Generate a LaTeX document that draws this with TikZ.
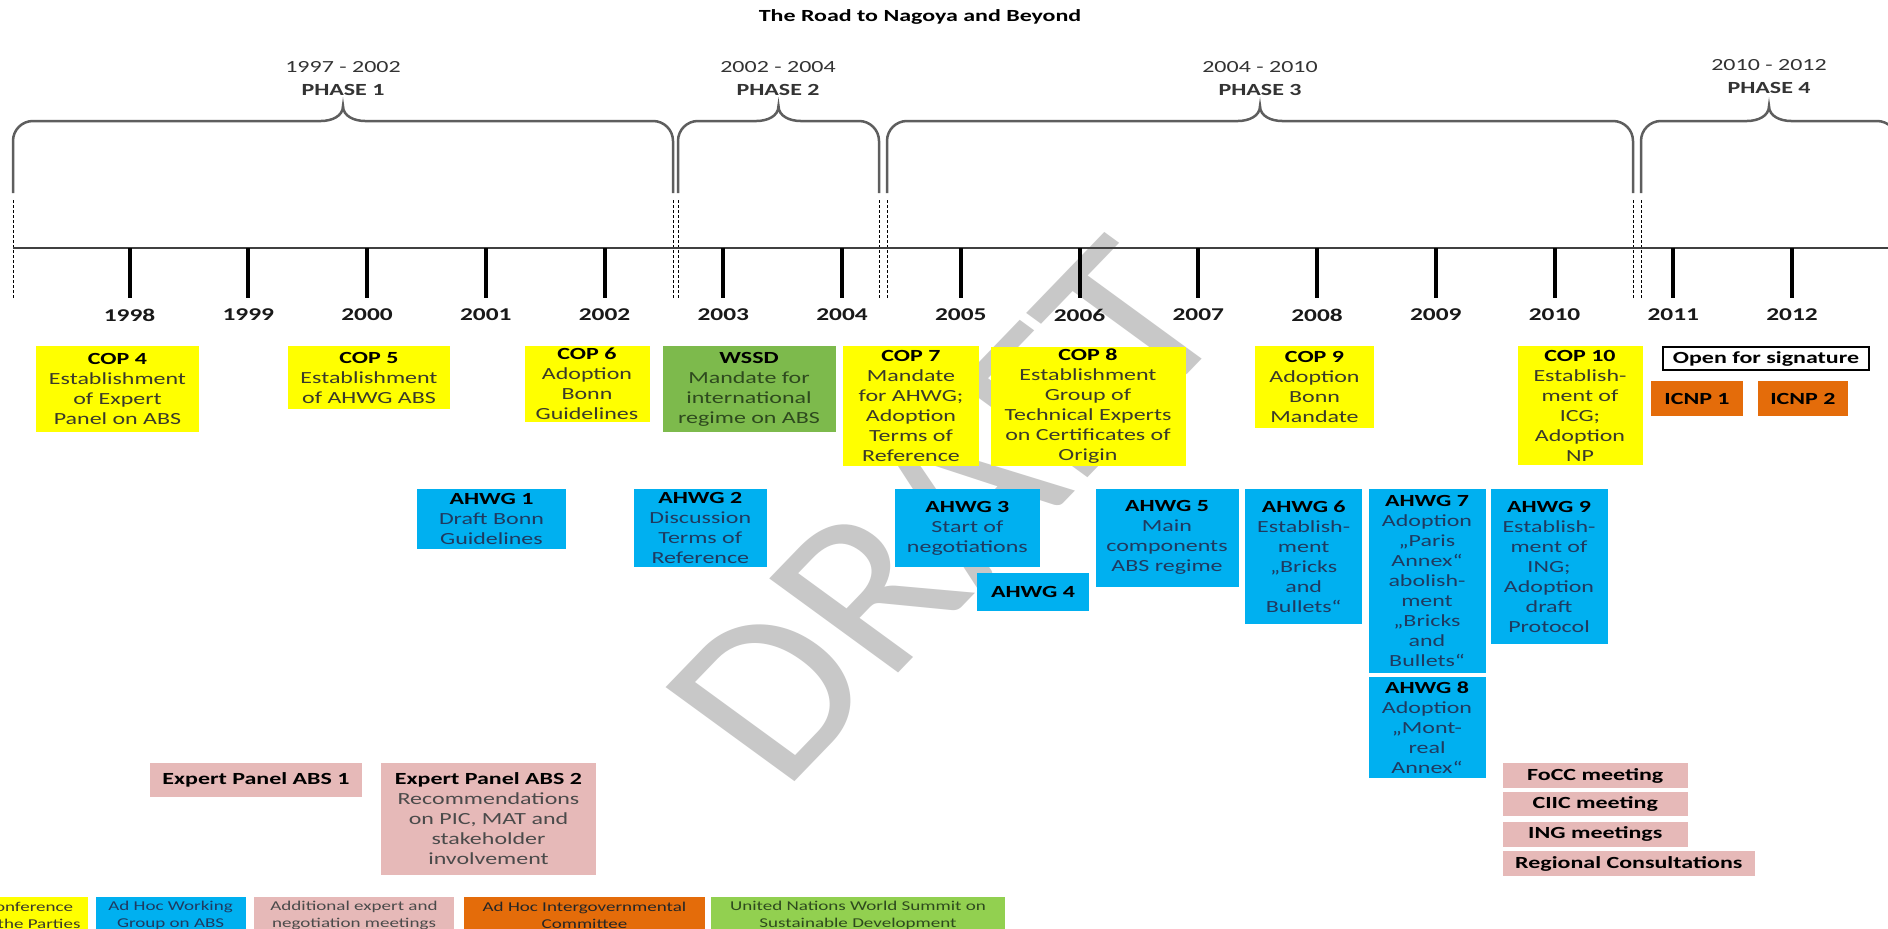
\documentclass[tikz,border=0pt]{standalone}
\usepackage{fontspec}
\setmainfont{Carlito}[FakeStretch=1.41]
\newfontfamily\draftfont{Carlito}
\usepackage{xcolor}
\usepackage{tikz}
\usetikzlibrary{positioning}

\definecolor{copyellow}{HTML}{FFFF00}
\definecolor{ahwgblue}{HTML}{00B0F0}
\definecolor{meetpink}{HTML}{E6B9B8}
\definecolor{icorange}{HTML}{E46C0A}
\definecolor{wssdgreen}{HTML}{7DBA4C}
\definecolor{legendgreen}{HTML}{92D050}
\definecolor{bracegray}{HTML}{5E5E5E}
\definecolor{draftgray}{HTML}{C8C8C8}
\definecolor{coptext}{HTML}{3A3A2A}
\definecolor{bluetext}{HTML}{1F3A60}
\definecolor{greytext}{HTML}{4A4A4A}
\definecolor{greentext}{HTML}{2E4A1E}

\newcommand{\evhead}[1]{\textcolor{black}{\textbf{#1}}}

\begin{document}
\begin{tikzpicture}[x=1pt,y=-1pt,
  evt/.style={inner sep=0pt,align=center,font=\fontsize{17}{20}\selectfont},
  cop/.style={evt,fill=copyellow,text=coptext},
  wssdbox/.style={evt,fill=wssdgreen,text=greentext},
  ahwg/.style={evt,fill=ahwgblue,text=bluetext},
  meet/.style={evt,fill=meetpink,text=greytext},
  icnp/.style={evt,fill=icorange,text=black,font=\fontsize{17}{20}\selectfont\bfseries},
  legendbox/.style={inner sep=0pt,align=center,minimum height=36,font=\fontsize{13.5}{17}\selectfont},
  yearlbl/.style={font=\fontsize{18}{20}\selectfont\bfseries,text=black!90},
  phaselbl/.style={align=center,font=\fontsize{17}{23}\selectfont,text=black!80},
  bracket/.style={draw=bracegray,line width=2.5pt},
  phasesep/.style={draw=black,line width=0.8pt,dash pattern=on 3pt off 2pt}]
  \useasboundingbox (0,0) rectangle (1888,929);
  \clip (0,0) rectangle (1888,929);
  \fill[white] (0,0) rectangle (1888,929);

  % watermark
  \begin{scope}[shift={(945,512)},xscale=1.15]
    \node[rotate=50,transform shape,text=draftgray,font=\draftfont\fontsize{228}{228}\selectfont] (draft) at (0,0) {DRAFT};
  \end{scope}

  \node[font=\fontsize{17}{20}\selectfont\bfseries] (title) at (920,17) {The Road to Nagoya and Beyond};

  % phases
  \foreach \l/\r in {13/673,678/879,887/1633,1641/1897} {
    \pgfmathsetmacro{\m}{(\l+\r)/2}
    \draw[bracket] (\l,193) -- (\l,141) to[out=90,in=180] ({\l+20},121) -- ({\m-22},121)
      to[out=0,in=-90] (\m,106) to[out=-90,in=180] ({\m+22},121) -- ({\r-20},121)
      to[out=0,in=90] (\r,141) -- (\r,193);
  }
  \foreach \x in {13,673,678,879,887,1633,1641}
    \draw[phasesep] (\x,200) -- (\x,298);
  \node[phaselbl] (ph1) at (343,78.5) {1997 - 2002\\\textbf{PHASE 1}};
  \node[phaselbl] (ph2) at (778,78.5) {2002 - 2004\\\textbf{PHASE 2}};
  \node[phaselbl] (ph3) at (1260,78.5) {2004 - 2010\\\textbf{PHASE 3}};
  \node[phaselbl] (ph4) at (1769,77) {2010 - 2012\\\textbf{PHASE 4}};

  % time axis
  \draw[line width=2.5pt,black!75] (13,248) -- (1888,248);
  \foreach \yr [count=\i from 0] in {1998,...,2012} {
    \draw[line width=4pt] ({129.5+118.75*\i},248) -- ++(0,50);
    \node[yearlbl] (y\yr) at ({129.5+118.75*\i},315) {\yr};
  }

  % COP row
  \node[cop,minimum width=163,minimum height=86] (cop4) at (117.5,389) {\evhead{COP 4}\\Establishment\\of Expert\\Panel on ABS};
  \node[cop,minimum width=162,minimum height=63] (cop5) at (369,377.5) {\evhead{COP 5}\\Establishment\\of AHWG ABS};
  \node[cop,minimum width=125,minimum height=76] (cop6) at (587,384) {\evhead{COP 6}\\Adoption\\Bonn\\Guidelines};
  \node[wssdbox,minimum width=173,minimum height=86] (wssd) at (749,389) {\evhead{WSSD}\\Mandate for\\international\\regime on ABS};
  \node[cop,minimum width=136,minimum height=120] (cop7) at (911,406) {\evhead{COP 7}\\Mandate\\for AHWG;\\Adoption\\Terms of\\Reference};
  \node[cop,minimum width=195,minimum height=119] (cop8) at (1088,406) {\evhead{COP 8}\\Establishment\\Group of\\Technical Experts\\on Certificates of\\Origin};
  \node[cop,minimum width=119,minimum height=82] (cop9) at (1314.5,387) {\evhead{COP 9}\\Adoption\\Bonn\\Mandate};
  \node[cop,minimum width=125,minimum height=119] (cop10) at (1580,405.5) {\evhead{COP 10}\\Establish-\\ment of\\ICG;\\Adoption\\NP};
  \node[evt,draw=black,line width=1.2pt,fill=white,font=\fontsize{17}{20}\selectfont\bfseries,minimum width=206,minimum height=23] (opensig) at (1766,358.5) {Open for signature};
  \node[icnp,minimum width=92,minimum height=35] (icnp1) at (1697,398.5) {ICNP 1};
  \node[icnp,minimum width=90,minimum height=35,right=14.5pt of icnp1] (icnp2) {ICNP 2};

  % AHWG row
  \node[ahwg,minimum width=149,minimum height=60] (ahwg1) at (491.5,519) {\evhead{AHWG 1}\\Draft Bonn\\Guidelines};
  \node[ahwg,minimum width=133,minimum height=78.5] (ahwg2) at (700.3,528.2) {\evhead{AHWG 2}\\Discussion\\Terms of\\Reference};
  \node[ahwg,minimum width=145,minimum height=78.5] (ahwg3) at (967.4,528.2) {\evhead{AHWG 3}\\Start of\\negotiations};
  \node[ahwg,minimum width=112,minimum height=38.5] (ahwg4) at (1033,592.2) {\evhead{AHWG 4}};
  \node[ahwg,minimum width=143,minimum height=97.5] (ahwg5) at (1167,537.8) {\evhead{AHWG 5}\\Main\\components\\ABS regime};
  \node[ahwg,minimum width=117,minimum height=135] (ahwg6) at (1303.7,556.5) {\evhead{AHWG 6}\\Establish-\\ment\\„Bricks\\and\\Bullets“};
  \node[ahwg,minimum width=117,minimum height=184] (ahwg7) at (1427,581) {\evhead{AHWG 7}\\Adoption\\„Paris\\Annex“\\abolish-\\ment\\„Bricks\\and\\Bullets“};
  \node[ahwg,minimum width=117,minimum height=101,below=4pt of ahwg7] (ahwg8) {\evhead{AHWG 8}\\Adoption\\„Mont-\\real\\Annex“};
  \node[ahwg,minimum width=117,minimum height=155] (ahwg9) at (1549,566.5) {\evhead{AHWG 9}\\Establish-\\ment of\\ING;\\Adoption\\draft\\Protocol};

  % expert and negotiation meetings
  \node[meet,minimum width=212,minimum height=34] (ep1) at (256,780) {\evhead{Expert Panel ABS 1}};
  \node[meet,minimum width=215,minimum height=112] (ep2) at (488.5,819) {\evhead{Expert Panel ABS 2}\\Recommendations\\on PIC, MAT and\\stakeholder\\involvement};
  \node[meet,minimum width=185.5,minimum height=25] (focc) at (1595.25,775.5) {\evhead{FoCC meeting}};
  \node[meet,minimum width=185.5,minimum height=24,below=4pt of focc] (ciic) {\evhead{CIIC meeting}};
  \node[meet,minimum width=185.5,minimum height=25,below=5pt of ciic] (ing) {\evhead{ING meetings}};
  \node[meet,minimum width=252.5,minimum height=25,below=4pt of ing.south west,anchor=north west] (regional) {\evhead{Regional Consultations}};

  % legend
  \node[legendbox,fill=copyellow,text=coptext,minimum width=118] (lgcop) at (29,915) {Conference\\of the Parties};
  \node[legendbox,fill=ahwgblue,text=bluetext,minimum width=150] (lgahwg) at (170.6,915) {Ad Hoc Working\\Group on ABS};
  \node[legendbox,fill=meetpink,text=greytext,minimum width=200] (lgmeet) at (354,915) {Additional expert and\\negotiation meetings};
  \node[legendbox,fill=icorange,text=black!85,minimum width=241] (lgicnp) at (584.5,915) {Ad Hoc Intergovernmental\\Committee};
  \node[legendbox,fill=legendgreen,text=greentext,minimum width=294] (lgwssd) at (858,915) {United Nations World Summit on\\Sustainable Development};
\end{tikzpicture}
\end{document}
